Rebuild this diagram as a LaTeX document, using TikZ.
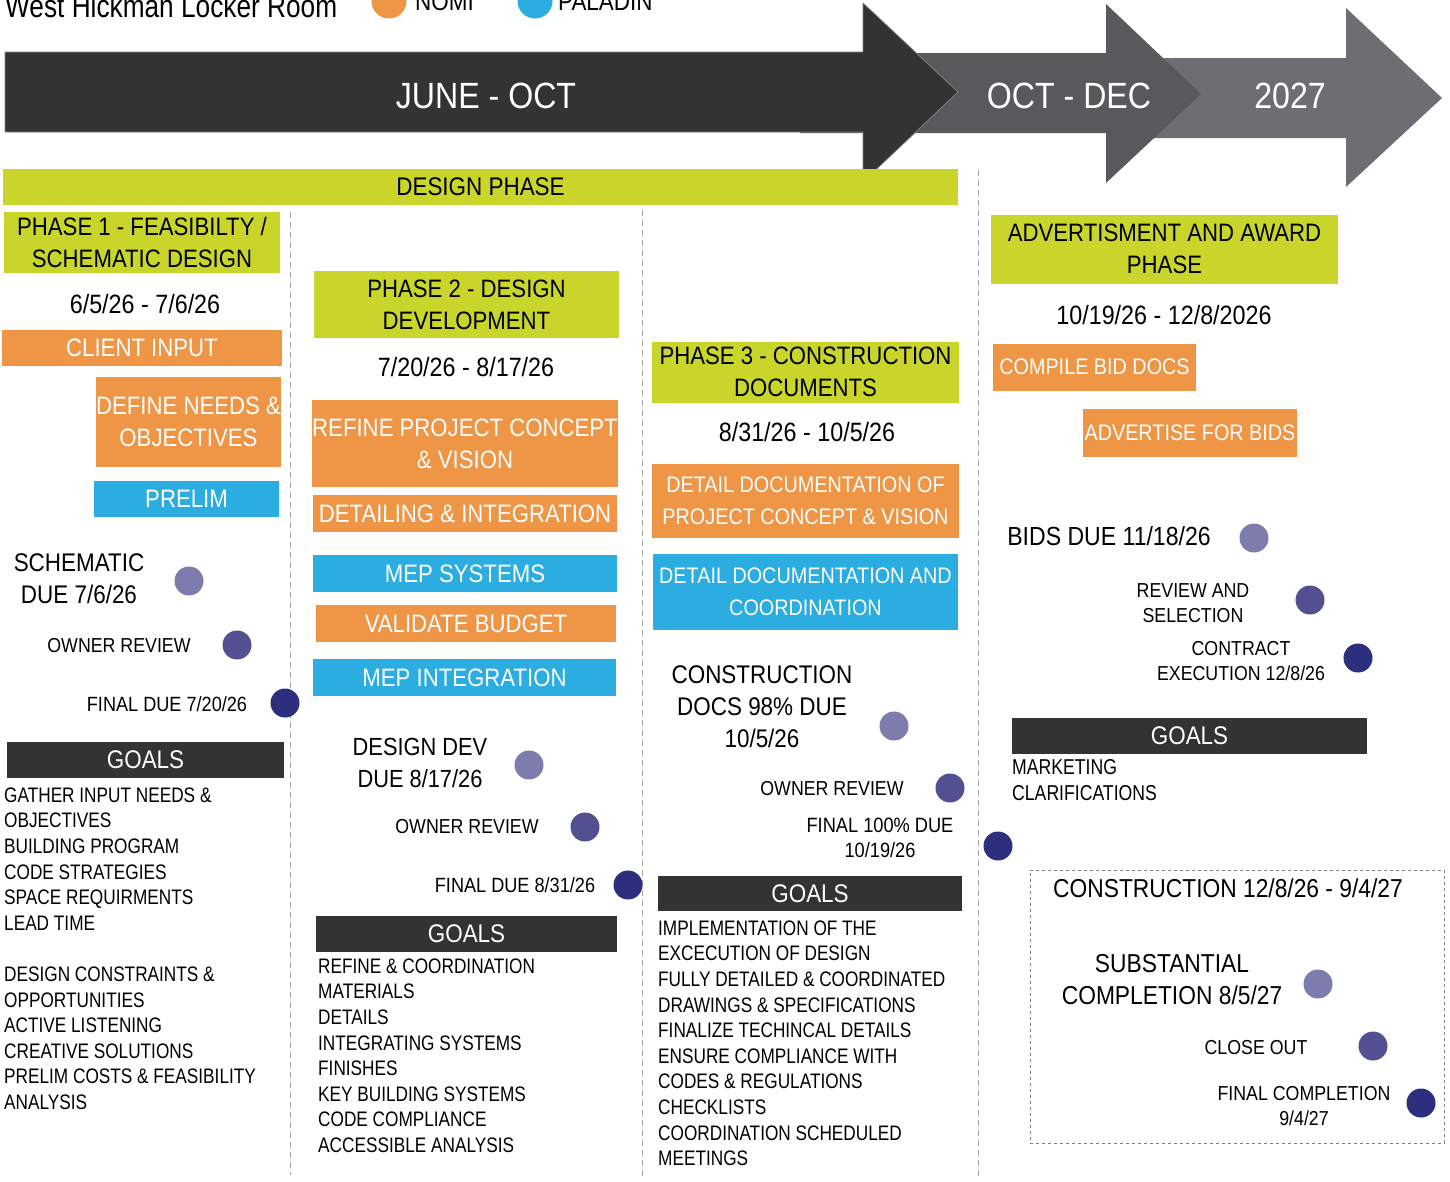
\documentclass[tikz,border=0pt]{standalone}
\usepackage{fontspec}
\setmainfont{Liberation Sans}[FakeStretch=0.88]
\newfontfamily\listfam{Liberation Sans}[FakeStretch=0.82]
\definecolor{lime}{HTML}{C9D52B}
\definecolor{nomi}{HTML}{EF9546}
\definecolor{paladin}{HTML}{2BADE2}
\definecolor{goalgray}{HTML}{333333}
\definecolor{arrowB}{HTML}{58595B}
\definecolor{arrowC}{HTML}{6D6E71}
\definecolor{dotA}{HTML}{7E7BAD}
\definecolor{dotB}{HTML}{535091}
\definecolor{dotC}{HTML}{2B2F7E}
\newcommand\szHuge{\fontsize{36.5}{40}\selectfont}
\newcommand\szBox{\fontsize{25.2}{32}\selectfont}
\newcommand\szTight{\fontsize{22.5}{32}\selectfont}
\newcommand\szDate{\fontsize{26.5}{32}\selectfont}
\newcommand\szDue{\fontsize{25.5}{32}\selectfont}
\newcommand\szList{\listfam\fontsize{21}{25.6}\selectfont}
\newcommand\szSmall{\fontsize{20.2}{25.5}\selectfont}
\tikzset{
  phasebox/.style={fill=lime, inner sep=0pt, align=center, font=\szBox},
  nomibox/.style={fill=nomi, text=white, inner sep=0pt, align=center, font=\szBox},
  paladinbox/.style={fill=paladin, text=white, inner sep=0pt, align=center, font=\szBox},
  goalbox/.style={fill=goalgray, text=white, inner sep=0pt, font=\szDue},
  datetext/.style={inner sep=0pt, font=\szDate},
  duetext/.style={inner sep=0pt, align=center, font=\szDue},
  steptext/.style={inner sep=0pt, align=center, font=\szSmall},
  goallist/.style={inner sep=0pt, align=left, anchor=north west, font=\szList},
  milestone/.style={circle, inner sep=0pt, minimum size=29pt},
  coldiv/.style={gray!70, line width=1pt, dash pattern=on 6pt off 4pt},
}
\begin{document}
\begin{tikzpicture}[x=1pt,y=-1pt]
\useasboundingbox (0,0) rectangle (1450,1181);
% timeline arrows
\fill [arrowC] (1150,58) -- (1346,58) -- (1346,8) -- (1442,98) -- (1346,187) -- (1346,138) -- (1150,138) -- cycle;
\fill [arrowB] (800,53) -- (1106,53) -- (1106,4) -- (1201,94) -- (1106,183) -- (1106,133) -- (800,133) -- cycle;
\filldraw [fill=goalgray, draw=gray, line width=0.8pt] (5,52) -- (863,52) -- (863,3) -- (958,92) -- (863,182) -- (863,132) -- (5,132) -- cycle;
\node [text=white, font=\szHuge, inner sep=0pt] (junoct) at (486,96) {JUNE - OCT};
\node [text=white, font=\szHuge, inner sep=0pt] (octdec) at (1069,96) {OCT - DEC};
\node [text=white, font=\szHuge, inner sep=0pt] (yr2027) at (1290,96) {2027};
% title and legend
\node [anchor=base west, inner sep=0pt, font=\listfam\fontsize{32}{36}\selectfont] (title) at (5,17) {West Hickman Locker Room};
\node [circle, fill=nomi, minimum size=35pt, inner sep=0pt] (nomidot) at (389,1) {};
\node [anchor=base west, inner sep=0pt, font=\szDue] (nomilbl) at (415,10) {NOMI};
\node [circle, fill=paladin, minimum size=35pt, inner sep=0pt] (paldot) at (535,1) {};
\node [anchor=base west, inner sep=0pt, font=\szDue] (pallbl) at (558,10) {PALADIN};
% design phase bar
\node [phasebox, font=\szDue, minimum width=955pt, minimum height=36pt] (design) at (480.5,187) {DESIGN PHASE};
\draw [coldiv] (290,212) -- (290,1175);
\draw [coldiv] (642,210) -- (642,1180);
\draw [coldiv] (978,170) -- (978,1180);

% phase 1
\node [phasebox, minimum width=276pt, minimum height=61pt] (ph1) at (142,242.5) {PHASE 1 - FEASIBILTY /\\SCHEMATIC DESIGN};
\node [datetext] (ph1date) at (145,304) {6/5/26 - 7/6/26};
\node [nomibox, minimum width=280pt, minimum height=36pt] (client) at (142,348) {CLIENT INPUT};
\node [nomibox, minimum width=185pt, minimum height=90pt] (needs) at (188.5,422) {DEFINE NEEDS \&\\OBJECTIVES};
\node [paladinbox, minimum width=185pt, minimum height=36pt] (prelim) at (186.5,499) {PRELIM};
\node [duetext] (sddue) at (79,579) {SCHEMATIC\\DUE 7/6/26};
\node [milestone, fill=dotA] (sddot) at (189,581) {};
\node [steptext] (sdrev) at (119,646) {OWNER REVIEW};
\node [milestone, fill=dotB] (sdrevdot) at (237,645) {};
\node [steptext, font=\fontsize{20.6}{25.5}\selectfont] (sdfin) at (167,704) {FINAL DUE 7/20/26};
\node [milestone, fill=dotC] (sdfindot) at (285,703) {};
\node [goalbox, minimum width=277pt, minimum height=36pt] (goals1) at (145.5,760) {GOALS};
\node [goallist] (list1) at (4,787.5) {GATHER INPUT NEEDS \&\\OBJECTIVES\\BUILDING PROGRAM\\CODE STRATEGIES\\SPACE REQUIRMENTS\\LEAD TIME\\[25.6pt]DESIGN CONSTRAINTS \&\\OPPORTUNITIES\\ACTIVE LISTENING\\CREATIVE SOLUTIONS\\PRELIM COSTS \& FEASIBILITY\\ANALYSIS};

% phase 2
\node [phasebox, minimum width=305pt, minimum height=67pt] (ph2) at (466.5,304.5) {PHASE 2 - DESIGN\\DEVELOPMENT};
\node [datetext] (ph2date) at (466,367) {7/20/26 - 8/17/26};
\node [nomibox, minimum width=304pt, minimum height=87pt] (refine) at (465,443.5) {REFINE PROJECT CONCEPT\\\& VISION};
\node [nomibox, minimum width=304pt, minimum height=37pt] (detailing) at (465,513.5) {DETAILING \& INTEGRATION};
\node [paladinbox, minimum width=304pt, minimum height=37pt] (mepsys) at (465,573.5) {MEP SYSTEMS};
\node [nomibox, minimum width=300pt, minimum height=37pt] (budget) at (466,623.5) {VALIDATE BUDGET};
\node [paladinbox, minimum width=303pt, minimum height=37pt] (mepint) at (464.5,677.5) {MEP INTEGRATION};
\node [duetext, font=\fontsize{24.8}{32}\selectfont] (dddue) at (420,763) {DESIGN DEV\\DUE 8/17/26};
\node [milestone, fill=dotA] (dddot) at (529,765) {};
\node [steptext] (ddrev) at (467,827) {OWNER REVIEW};
\node [milestone, fill=dotB] (ddrevdot) at (585,827) {};
\node [steptext, font=\fontsize{20.6}{25.5}\selectfont] (ddfin) at (515,885) {FINAL DUE 8/31/26};
\node [milestone, fill=dotC] (ddfindot) at (628,885) {};
\node [goalbox, minimum width=301pt, minimum height=36pt] (goals2) at (466.5,934) {GOALS};
\node [goallist] (list2) at (318,958.5) {REFINE \& COORDINATION\\MATERIALS\\DETAILS\\INTEGRATING SYSTEMS\\FINISHES\\KEY BUILDING SYSTEMS\\CODE COMPLIANCE\\ACCESSIBLE ANALYSIS};

% phase 3
\node [phasebox, minimum width=307pt, minimum height=61pt] (ph3) at (805.5,372) {PHASE 3 - CONSTRUCTION\\DOCUMENTS};
\node [datetext] (ph3date) at (807,432) {8/31/26 - 10/5/26};
\node [nomibox, font=\szTight, minimum width=307pt, minimum height=74pt] (docconcept) at (805.5,501) {DETAIL DOCUMENTATION OF\\PROJECT CONCEPT \& VISION};
\node [paladinbox, font=\szTight, minimum width=305pt, minimum height=76pt] (doccoord) at (805.5,592) {DETAIL DOCUMENTATION AND\\COORDINATION};
\node [duetext] (cddue) at (762,707) {CONSTRUCTION\\DOCS 98\% DUE\\10/5/26};
\node [milestone, fill=dotA] (cddot) at (894,726) {};
\node [steptext] (cdrev) at (832,789) {OWNER REVIEW};
\node [milestone, fill=dotB] (cdrevdot) at (950,788) {};
\node [steptext, font=\fontsize{20.7}{25.5}\selectfont] (cdfin) at (880,838) {FINAL 100\% DUE\\10/19/26};
\node [milestone, fill=dotC] (cdfindot) at (998,846) {};
\node [goalbox, minimum width=304pt, minimum height=35pt] (goals3) at (810,893.5) {GOALS};
\node [goallist] (list3) at (658,920.5) {IMPLEMENTATION OF THE\\EXCECUTION OF DESIGN\\FULLY DETAILED \& COORDINATED\\DRAWINGS \& SPECIFICATIONS\\FINALIZE TECHINCAL DETAILS\\ENSURE COMPLIANCE WITH\\CODES \& REGULATIONS\\CHECKLISTS\\COORDINATION SCHEDULED\\MEETINGS};

% advertisment and award
\node [phasebox, minimum width=347pt, minimum height=69pt] (adv) at (1164.5,249) {ADVERTISMENT AND AWARD\\PHASE};
\node [datetext] (advdate) at (1164,315) {10/19/26 - 12/8/2026};
\node [nomibox, font=\szTight, minimum width=203pt, minimum height=47pt] (compile) at (1094.5,367) {COMPILE BID DOCS};
\node [nomibox, font=\szTight, minimum width=214pt, minimum height=48pt] (advbids) at (1190,432.5) {ADVERTISE FOR BIDS};
\node [inner sep=0pt, font=\fontsize{26.2}{32}\selectfont] (bidsdue) at (1109,536) {BIDS DUE 11/18/26};
\node [milestone, fill=dotA] (bidsdot) at (1254,538) {};
\node [steptext] (select) at (1193,603) {REVIEW AND\\SELECTION};
\node [milestone, fill=dotB] (selectdot) at (1310,600) {};
\node [steptext] (contract) at (1241,661) {CONTRACT\\EXECUTION 12/8/26};
\node [milestone, fill=dotC] (contractdot) at (1358,658) {};
\node [goalbox, minimum width=355pt, minimum height=36pt] (goals4) at (1189.5,736) {GOALS};
\node [goallist, font=\listfam\fontsize{21.5}{26}\selectfont] (list4) at (1012,759.5) {MARKETING\\CLARIFICATIONS};

% construction
\node [draw=gray, dashed, line width=0.8pt, minimum width=414pt, minimum height=273pt, inner sep=0pt] (conbox) at (1237,1006.5) {};
\node [datetext, font=\fontsize{25.9}{32}\selectfont] (contitle) at (1228,888) {CONSTRUCTION 12/8/26 - 9/4/27};
\node [duetext, font=\fontsize{25.9}{32}\selectfont] (subst) at (1172,980) {SUBSTANTIAL\\COMPLETION 8/5/27};
\node [milestone, fill=dotA] (substdot) at (1318,984) {};
\node [steptext] (closeout) at (1256,1048) {CLOSE OUT};
\node [milestone, fill=dotB] (closedot) at (1373,1046) {};
\node [steptext] (finalcomp) at (1304,1106) {FINAL COMPLETION\\9/4/27};
\node [milestone, fill=dotC] (finaldot) at (1421,1103) {};
\end{tikzpicture}
\end{document}
